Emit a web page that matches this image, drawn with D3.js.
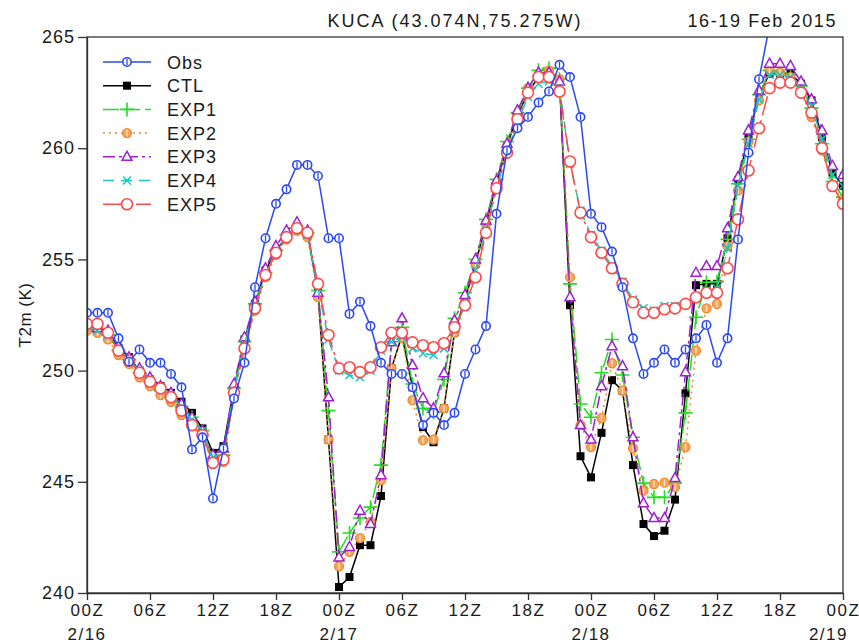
<!DOCTYPE html>
<html>
<head>
<meta charset="utf-8">
<script src="https://cdn.jsdelivr.net/npm/d3@7"></script>
<style>
	body { margin: 0; background: #fff; }
	svg text { font-family: "Liberation Sans", Arial, sans-serif; fill: #1a1a1a; }
</style>
</head>
<body>
<svg id="chart" width="859" height="644"></svg>
<script>

// hourly samples, 00Z 2/16 .. 00Z 2/19
var hours = d3.range( 0, 73 );

var xTickHours = [ 0, 6, 12, 18, 24, 30, 36, 42, 48, 54, 60, 66, 72 ];
var xTickLabels = [ "00Z", "06Z", "12Z", "18Z", "00Z", "06Z", "12Z", "18Z", "00Z", "06Z", "12Z", "18Z", "00Z" ];
var dateHours = [ 0, 24, 48, 72 ];
var dateLabels = [ "2/16", "2/17", "2/18", "2/19" ];
var yTicks = [ 240, 245, 250, 255, 260, 265 ];

var obs = [
	252.6, 252.6, 252.6, 251.45, 250.4, 250.95, 250.35, 250.35, 249.85, 249.25, 246.45, 247.0,
	244.25, 246.5, 248.75, 250.35, 253.75, 255.95, 257.5, 258.15, 259.25, 259.25, 258.75, 255.95,
	255.95, 252.55, 253.1, 252.0, 250.35, 249.85, 249.85, 249.25, 247.55, 248.1, 247.55, 248.1,
	249.85, 250.95, 252.0, 257.05, 259.9, 260.9, 261.4, 262.05, 262.55, 263.75, 263.2, 261.4,
	257.05, 256.45, 255.35, 253.75, 251.45, 249.85, 250.35, 250.95, 250.35, 250.95, 251.45, 252.05,
	250.35, 251.45, 255.9, 259.8, 263.1, 265.5, null, null, null, null, null, null,
	null
];

var ctl = [
	252.0, 251.8, 251.7, 251.0, 250.6, 250.0, 249.6, 249.3, 249.0, 248.6, 248.1, 247.4,
	246.3, 246.6, 249.2, 251.4, 253.0, 254.5, 255.4, 256.0, 256.4, 256.2, 253.5, 246.9,
	240.27, 240.72, 242.15, 242.15, 244.36, 250.1, 251.6, 249.25, 247.46, 246.78, 248.3, 251.72,
	253.2, 254.8, 256.6, 258.4, 260.1, 261.5, 262.5, 263.2, 263.3, 263.0, 252.94, 246.15,
	245.2, 247.2, 249.57, 249.1, 245.75, 243.1, 242.56, 242.8, 244.2, 248.98, 253.84, 253.9,
	253.9, 255.95, 258.55, 260.5, 262.4, 263.35, 263.35, 263.35, 262.9, 262.15, 260.5, 258.9,
	258.3
];

var exp1 = [
	251.9, 251.8, 251.6, 250.9, 250.5, 249.9, 249.5, 249.1, 248.8, 248.4, 247.9, 247.3,
	246.0, 246.2, 249.2, 251.3, 253.0, 254.4, 255.4, 256.1, 256.4, 256.2, 253.6, 248.2,
	241.85, 242.7, 243.37, 243.86, 245.75, 251.3, 251.95, 249.4, 248.3, 248.13, 249.6, 252.35,
	253.5, 255.0, 256.8, 258.6, 260.3, 261.6, 262.7, 263.5, 263.6, 263.1, 253.9, 248.5,
	247.9, 249.9, 251.4, 249.8, 247.0, 244.94, 244.3, 244.3, 244.94, 248.1, 252.4, 253.97,
	254.0, 255.9, 258.4, 260.4, 262.4, 263.5, 263.4, 263.3, 262.8, 261.8, 260.2, 258.5,
	257.8
];

var exp2 = [
	251.8, 251.7, 251.4, 250.7, 250.3, 249.7, 249.3, 248.9, 248.6, 248.0, 247.5, 247.0,
	245.8, 245.9, 248.9, 251.0, 252.7, 254.2, 255.2, 255.9, 256.3, 256.0, 253.3, 246.9,
	241.2, 241.85, 242.47, 243.2, 245.08, 250.1, 251.5, 248.67, 246.87, 246.9, 248.3, 251.7,
	253.1, 254.8, 256.6, 258.4, 260.1, 261.5, 262.7, 263.3, 263.5, 263.1, 254.2, 247.55,
	246.56, 247.86, 250.33, 249.1, 246.5, 244.6, 244.9, 244.96, 244.76, 246.56, 250.9, 252.8,
	253.0, 255.6, 258.1, 260.3, 262.15, 263.5, 263.4, 263.2, 262.6, 261.4, 259.9, 258.3,
	257.7
];

var exp3 = [
	252.1, 251.9, 251.8, 251.1, 250.6, 250.1, 249.7, 249.3, 249.0, 248.5, 247.9, 247.3,
	246.2, 246.5, 249.4, 251.5, 253.1, 254.6, 255.6, 256.3, 256.67, 256.3, 253.5, 248.8,
	241.6, 242.07, 243.7, 243.1, 245.3, 251.27, 252.35, 250.24, 248.76, 248.3, 249.88, 252.26,
	253.4, 255.0, 256.75, 258.55, 260.2, 261.7, 262.7, 263.4, 263.4, 263.0, 253.3, 247.55,
	246.9, 249.3, 251.1, 250.2, 247.0, 244.04, 243.37, 243.37, 245.17, 249.93, 254.4, 254.7,
	254.7, 256.4, 258.7, 260.8, 262.6, 263.8, 263.8, 263.7, 263.0, 262.2, 260.8, 259.2,
	258.8
];

var exp4 = [
	252.0, 251.8, 251.6, 251.0, 250.5, 250.0, 249.6, 249.2, 248.9, 248.4, 247.8, 247.3,
	246.1, 246.3, 249.1, 251.2, 252.9, 254.3, 255.3, 256.0, 256.4, 256.1, 253.7, 251.4,
	250.0, 249.8, 249.7, 250.0, 250.9, 251.3, 251.5, 251.0, 250.78, 250.7, 251.0, 251.9,
	252.9, 254.5, 256.3, 258.2, 259.8, 261.2, 262.3, 262.9, 263.0, 262.7, 259.3, 257.2,
	256.1, 255.4, 254.7, 254.0, 253.2, 252.8, 252.7, 252.9, 252.9, 253.0, 253.3, 253.6,
	253.7, 255.5, 258.3, 260.2, 262.2, 263.3, 263.3, 263.2, 262.7, 261.9, 260.4, 258.8,
	258.3
];

var exp5 = [
	252.1, 252.1, 251.7, 250.9, 250.45, 249.9, 249.5, 249.2, 248.8, 248.2, 247.55, 247.1,
	245.85, 246.0, 249.0, 251.0, 252.8, 254.3, 255.3, 256.0, 256.4, 256.2, 253.9, 251.6,
	250.1, 250.15, 249.93, 250.15, 251.05, 251.7, 251.7, 251.27, 251.14, 251.05, 251.23, 251.95,
	252.94, 254.2, 256.2, 258.2, 259.8, 261.3, 262.5, 263.2, 263.2, 262.55, 259.4, 257.1,
	256.0, 255.3, 254.6, 253.9, 253.07, 252.6, 252.6, 252.76, 252.8, 253.0, 253.3, 253.5,
	253.5, 254.6, 256.8, 259.0, 260.9, 262.7, 262.95, 262.95, 262.5, 261.6, 260.0, 258.3,
	257.5
];

var seriesNames = [ "Obs", "CTL", "EXP1", "EXP2", "EXP3", "EXP4", "EXP5" ];
var seriesValues = [ obs, ctl, exp1, exp2, exp3, exp4, exp5 ];
var seriesColors = [ "#2a48f2", "#000000", "#22dd22", "#f08a2a", "#a01fd0", "#18c4c4", "#ff4a4a" ];
var seriesDash = [ null, null, "16,5", "2,4", "12,4,3,4", "11,7", "20,5,3,5" ];

// marker drawing, one per series
var drawMarker = function( g, i, color )
{
	if( i == 0 )
	{
		g.append( 'circle' ).attr( 'r', 4.2 ).attr( 'fill', '#fff' ).attr( 'stroke', color ).attr( 'stroke-width', 1.6 );
		g.append( 'line' ).attr( 'y1', -3 ).attr( 'y2', 3 ).attr( 'stroke', color ).attr( 'stroke-width', 1.3 );
	}
	else if( i == 1 )
	{
		g.append( 'rect' ).attr( 'x', -4 ).attr( 'y', -4 ).attr( 'width', 8 ).attr( 'height', 8 ).attr( 'fill', color );
	}
	else if( i == 2 )
	{
		g.append( 'path' ).attr( 'd', 'M-7,0H7M0,-7V7' ).attr( 'stroke', color ).attr( 'stroke-width', 1.6 ).attr( 'fill', 'none' );
	}
	else if( i == 3 )
	{
		g.append( 'circle' ).attr( 'r', 4.5 ).attr( 'fill', '#f4a560' ).attr( 'stroke', color ).attr( 'stroke-width', 1.3 );
		g.append( 'line' ).attr( 'y1', -3.5 ).attr( 'y2', 3.5 ).attr( 'stroke', '#ffe2c4' ).attr( 'stroke-width', 1.3 );
	}
	else if( i == 4 )
	{
		g.append( 'path' ).attr( 'd', 'M0,-5.5L5,3.5H-5Z' ).attr( 'fill', '#fff' ).attr( 'stroke', color ).attr( 'stroke-width', 1.5 );
	}
	else if( i == 5 )
	{
		g.append( 'path' ).attr( 'd', 'M-4,-4L4,4M-4,4L4,-4' ).attr( 'stroke', color ).attr( 'stroke-width', 1.5 ).attr( 'fill', 'none' );
	}
	else
	{
		g.append( 'circle' ).attr( 'r', 5.5 ).attr( 'fill', '#fff' ).attr( 'stroke', color ).attr( 'stroke-width', 1.6 );
	}
};

var svg = d3.select( '#chart' );

var margin = { top: 37, bottom: 51, left: 87, right: 16 };
var size = { width: 859 - margin.left - margin.right, height: 644 - margin.top - margin.bottom };

var scale = {
	x: d3.scaleLinear().domain( [ 0, 72 ] ).range( [ 0, size.width ] ),
	y: d3.scaleLinear().domain( [ 240, 265 ] ).range( [ size.height, 0 ] )
};

var root = svg.append( 'g' )
	.attr( 'transform', 'translate(' + margin.left + ',' + margin.top + ')' );

root.append( 'clipPath' ).attr( 'id', 'plot-clip' )
	.append( 'rect' ).attr( 'width', size.width ).attr( 'height', size.height );

// series, models first, observations on top
var plot = root.append( 'g' ).attr( 'clip-path', 'url(#plot-clip)' );
var order = [ 1, 2, 3, 4, 5, 6, 0 ];

order.forEach( function( i )
{
	var values = seriesValues[ i ];
	var pts = hours.map( function( h ) { return { h: h, v: values[ h ] }; } );

	var line = d3.line()
		.defined( function( d ) { return d.v != null; } )
		.x( function( d ) { return scale.x( d.h ); } )
		.y( function( d ) { return scale.y( d.v ); } );

	plot.append( 'path' )
		.datum( pts )
		.attr( 'd', line )
		.attr( 'fill', 'none' )
		.attr( 'stroke', seriesColors[ i ] )
		.attr( 'stroke-width', 1.5 )
		.attr( 'stroke-dasharray', seriesDash[ i ] );

	plot.append( 'g' )
		.selectAll( 'g' )
		.data( pts.filter( function( d ) { return d.v != null; } ) )
		.enter()
		.append( 'g' )
		.attr( 'transform', function( d ) { return 'translate(' + scale.x( d.h ) + ',' + scale.y( d.v ) + ')'; } )
		.each( function() { drawMarker( d3.select( this ), i, seriesColors[ i ] ); } );
} );

// frame and axes
root.append( 'rect' )
	.attr( 'width', size.width )
	.attr( 'height', size.height )
	.attr( 'fill', 'none' )
	.attr( 'stroke', '#333' )
	.attr( 'stroke-width', 1.3 );

var yAxis = root.append( 'g' )
	.call( d3.axisLeft( scale.y ).tickValues( yTicks ).tickSize( 9 ).tickSizeOuter( 0 ).tickPadding( 3 ).tickFormat( d3.format( 'd' ) ) );

var xAxis = root.append( 'g' )
	.attr( 'transform', 'translate(0,' + size.height + ')' )
	.call( d3.axisBottom( scale.x ).tickValues( xTickHours ).tickSize( 7 ).tickSizeOuter( 0 ).tickPadding( 4 )
		.tickFormat( function( d, k ) { return xTickLabels[ k ]; } ) );

[ yAxis, xAxis ].forEach( function( ax )
{
	ax.select( '.domain' ).attr( 'stroke', '#333' ).attr( 'stroke-width', 1.3 );
	ax.selectAll( '.tick line' ).attr( 'stroke', '#333' ).attr( 'stroke-width', 1.3 );
	ax.selectAll( '.tick text' )
		.attr( 'font-family', '"Liberation Sans", Arial, sans-serif' )
		.attr( 'font-size', 18 )
		.attr( 'letter-spacing', 1 )
		.attr( 'fill', '#1a1a1a' );
} );
xAxis.selectAll( '.tick text' ).attr( 'font-size', 17 ).attr( 'letter-spacing', 1.5 );

// date line under the hour labels; the last one is kept inside the page
xAxis.selectAll( '.date' )
	.data( dateHours )
	.enter()
	.append( 'text' )
	.attr( 'class', 'date' )
	.attr( 'x', function( d, k ) { return k == dateHours.length - 1 ? scale.x( d ) + 5 : scale.x( d ); } )
	.attr( 'y', 47 )
	.attr( 'text-anchor', function( d, k ) { return k == dateHours.length - 1 ? 'end' : 'middle'; } )
	.attr( 'font-size', 17 )
	.attr( 'letter-spacing', 1.5 )
	.text( function( d, k ) { return dateLabels[ k ]; } );

// titles
svg.append( 'text' )
	.attr( 'x', 455 ).attr( 'y', 27 )
	.attr( 'text-anchor', 'middle' )
	.attr( 'font-size', 18 )
	.attr( 'letter-spacing', 2 )
	.text( 'KUCA (43.074N,75.275W)' );

svg.append( 'text' )
	.attr( 'x', 837 ).attr( 'y', 27 )
	.attr( 'text-anchor', 'end' )
	.attr( 'font-size', 18 )
	.attr( 'letter-spacing', 1.6 )
	.text( '16-19 Feb 2015' );

svg.append( 'text' )
	.attr( 'transform', 'translate(31,315) rotate(-90)' )
	.attr( 'text-anchor', 'middle' )
	.attr( 'font-size', 17 )
	.attr( 'letter-spacing', 0.5 )
	.text( 'T2m (K)' );

// legend
var legend = svg.append( 'g' ).attr( 'transform', 'translate(103,62)' );
seriesNames.forEach( function( name, i )
{
	var row = legend.append( 'g' ).attr( 'transform', 'translate(0,' + ( i * 23.7 ) + ')' );
	row.append( 'line' )
		.attr( 'x1', 0 ).attr( 'x2', 48 )
		.attr( 'stroke', seriesColors[ i ] )
		.attr( 'stroke-width', 1.5 )
		.attr( 'stroke-dasharray', seriesDash[ i ] );
	drawMarker( row.append( 'g' ).attr( 'transform', 'translate(24,0)' ), i, seriesColors[ i ] );
	row.append( 'text' )
		.attr( 'x', 64 ).attr( 'y', 6.5 )
		.attr( 'font-size', 18 )
		.attr( 'letter-spacing', 1 )
		.text( name );
} );

</script>
</body>
</html>
